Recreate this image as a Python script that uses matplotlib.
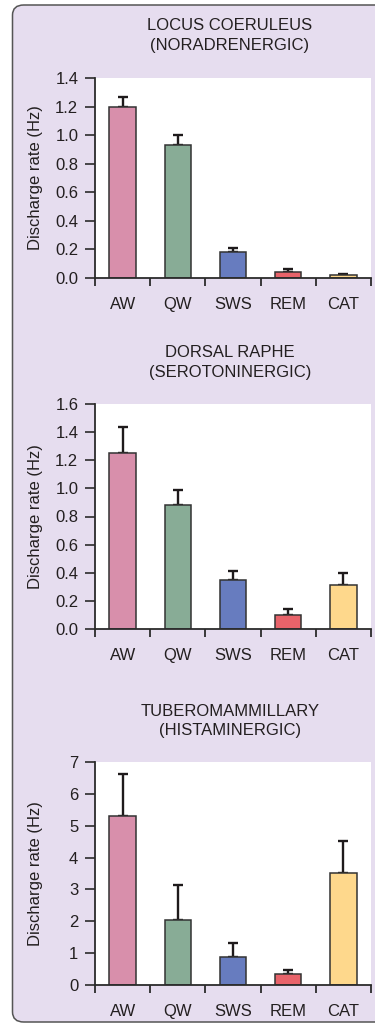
import matplotlib
matplotlib.use("Agg")
import matplotlib.pyplot as plt
from matplotlib.patches import FancyBboxPatch
from matplotlib.ticker import FixedLocator, NullFormatter

plt.rcParams['font.family'] = ['Liberation Sans', 'DejaVu Sans']

categories = ["AW", "QW", "SWS", "REM", "CAT"]
colors = ["#D88FAB", "#88AC96", "#677CBF", "#E8636A", "#FED88C"]

titles = [("LOCUS COERULEUS", "(NORADRENERGIC)"),
          ("DORSAL RAPHE", "(SEROTONINERGIC)"),
          ("TUBEROMAMMILLARY", "(HISTAMINERGIC)")]

lc_values = [1.20, 0.93, 0.18, 0.04, 0.02]
lc_errors = [0.07, 0.07, 0.03, 0.02, 0.01]
dr_values = [1.25, 0.885, 0.345, 0.10, 0.315]
dr_errors = [0.19, 0.105, 0.07, 0.04, 0.08]
tm_values = [5.32, 2.05, 0.88, 0.36, 3.53]
tm_errors = [1.30, 1.10, 0.44, 0.10, 0.98]

yticks_list = [
    [0.0, 0.2, 0.4, 0.6, 0.8, 1.0, 1.2, 1.4],
    [0.0, 0.2, 0.4, 0.6, 0.8, 1.0, 1.2, 1.4, 1.6],
    [0, 1, 2, 3, 4, 5, 6, 7],
]
ytick_labels_list = [
    ["0.0", "0.2", "0.4", "0.6", "0.8", "1.0", "1.2", "1.4"],
    ["0.0", "0.2", "0.4", "0.6", "0.8", "1.0", "1.2", "1.4", "1.6"],
    ["0", "1", "2", "3", "4", "5", "6", "7"],
]
values_list = [lc_values, dr_values, tm_values]
errors_list = [lc_errors, dr_errors, tm_errors]

W, H = 375, 1025
fig = plt.figure(figsize=(W / 100, H / 100), dpi=100)
fig.patch.set_facecolor("white")

# rounded lavender panel
box = FancyBboxPatch((12.5 / W, 1 - 1022 / H), (400 - 12.5) / W, (1022 - 5) / H,
                     boxstyle="round,pad=0,rounding_size=0.03",
                     transform=fig.transFigure, facecolor="#E6DDEF",
                     edgecolor="#555555", linewidth=1.1, mutation_aspect=375 / 1025 * 0.9,
                     zorder=-10)
fig.patches.append(box)

# axes pixel layout (left, right, top, bottom)
axes_px = [(95, 371, 78, 278), (95, 371, 404, 629), (95, 371, 762, 985)]
title_px = [(25.5, 45.5), (352, 372), (711, 731)]

text_color = "#231F20"
spine_color = "#2B2B2B"
fs = 12

for i in range(3):
    l, r, t, b = axes_px[i]
    ax = fig.add_axes([l / W, 1 - b / H, (r - l) / W, (b - t) / H])
    ax.set_facecolor("white")
    x = list(range(len(categories)))
    ax.errorbar(x, values_list[i], yerr=[[0] * 5, errors_list[i]], fmt="none",
                ecolor="#1E1A1B", elinewidth=1.7, capsize=3.3, capthick=1.7, zorder=1)
    ax.bar(x, values_list[i], width=0.48, color=colors, edgecolor="#333333",
           linewidth=1.1, zorder=2)
    ax.set_xlim(-0.5, 4.5)
    ax.set_ylim(yticks_list[i][0], yticks_list[i][-1])
    ax.set_yticks(yticks_list[i])
    ax.set_yticklabels(ytick_labels_list[i])
    ax.set_xticks(x)
    ax.set_xticklabels(categories)
    ax.xaxis.set_minor_locator(FixedLocator([-0.5, 0.5, 1.5, 2.5, 3.5, 4.5]))
    ax.xaxis.set_minor_formatter(NullFormatter())
    ax.tick_params(axis="x", which="major", length=0, pad=14, labelsize=fs,
                   labelcolor=text_color)
    ax.tick_params(axis="x", which="minor", length=6, width=1.3, direction="out",
                   color=spine_color)
    ax.tick_params(axis="y", which="major", length=7, width=1.2, direction="out",
                   pad=5, labelsize=fs, labelcolor=text_color, color=spine_color)
    for s in ["top", "right"]:
        ax.spines[s].set_visible(False)
    for s in ["left", "bottom"]:
        ax.spines[s].set_color(spine_color)
        ax.spines[s].set_linewidth(1.3)
    ax.spines["bottom"].set_zorder(3)
    ax.set_ylabel("Discharge rate (Hz)", fontsize=fs, color=text_color)
    ax.yaxis.set_label_coords(-0.188, 0.5)
    for line, yy in zip(titles[i], title_px[i]):
        fig.text(230 / W, 1 - yy / H, line, ha="center", va="center",
                 fontsize=fs, color=text_color)

fig.savefig("out.png", dpi=100)
